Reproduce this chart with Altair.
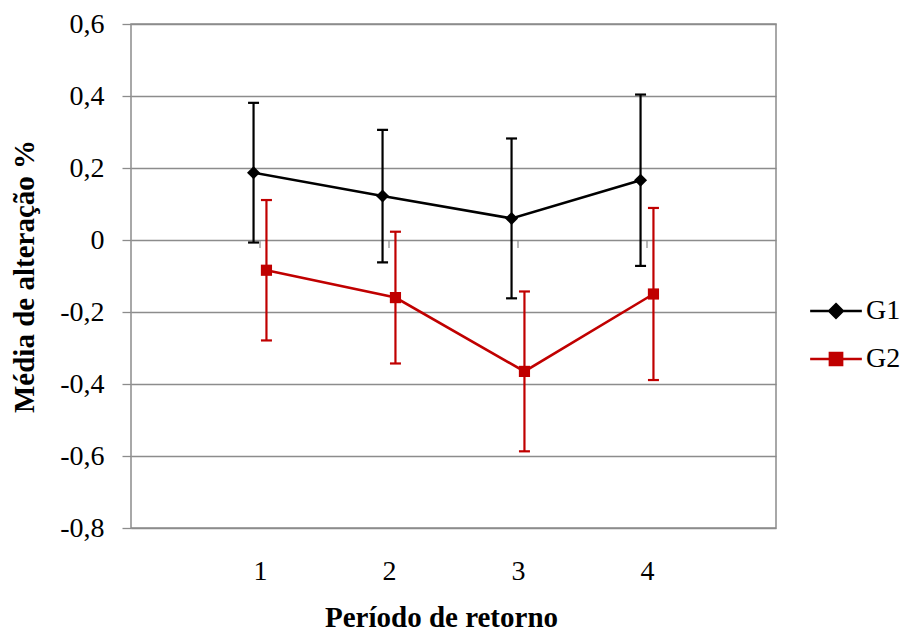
import altair as alt
import pandas as pd

# ---- data ----
periodos = [1, 2, 3, 4]
g1_media = [0.187, 0.122, 0.060, 0.166]
g1_erro = [0.194, 0.184, 0.222, 0.238]
g2_media = [-0.084, -0.160, -0.365, -0.150]
g2_erro = [0.195, 0.183, 0.222, 0.239]
grupos = ["G1", "G2"]
cores = ["#000000", "#C00000"]
formas = ["diamond", "square"]
y_ticks = [-0.8, -0.6, -0.4, -0.2, 0, 0.2, 0.4, 0.6]

rows = []
for g, med, err in [("G1", g1_media, g1_erro), ("G2", g2_media, g2_erro)]:
    for p, m, e in zip(periodos, med, err):
        rows.append({"grupo": g, "periodo": p, "media": m, "lo": m - e, "hi": m + e})
df = pd.DataFrame(rows)

FONT = "Liberation Serif"
GRID = "#8c8c8c"
YT = "Média de alteração %"

x_enc = alt.X(
    "xp:Q",
    scale=alt.Scale(domain=[0, 5], nice=False, zero=False),
    axis=alt.Axis(values=periodos, grid=False, ticks=False, domain=False,
                  labelPadding=29, labelFontSize=28, labelFont=FONT,
                  labelColor="black", titleFont=FONT, titleFontSize=29,
                  titleFontWeight="bold", titleColor="black", titlePadding=18,
                  titleX=310),
    title="Período de retorno",
)
y_scale = alt.Scale(domain=[-0.8, 0.6], nice=False, zero=False)
y_axis = alt.Axis(
    values=y_ticks,
    labelExpr="datum.value == 0 ? '0' : replace(replace(format(datum.value, '.1f'), '.', ','), '\u2212', '-')",
    grid=True, gridColor=GRID, gridWidth=1.3, domain=False,
    tickColor=GRID, tickSize=9, tickWidth=1.3, labelPadding=18,
    labelFontSize=28, labelFont=FONT, labelColor="black",
    titleFont=FONT, titleFontSize=29, titleFontWeight="bold",
    titleColor="black", titlePadding=20,
)

base = alt.Chart(df).transform_calculate(
    xp="datum.periodo + (datum.grupo == 'G1' ? -0.05 : 0.05)"
)

layers = []

# small ticks on the zero line
zt = alt.Chart(pd.DataFrame({"periodo": periodos})).transform_calculate(
    xp="datum.periodo"
).mark_rule(color=GRID, strokeWidth=1.2).encode(
    x=x_enc,
    y=alt.Y("z0:Q", scale=y_scale, axis=y_axis, title=YT),
    y2="z1:Q",
).transform_calculate(z0="0", z1="-0.022")
layers.append(zt)

for g, c, f in zip(grupos, cores, formas):
    b = base.transform_filter(alt.datum.grupo == g)
    line = b.mark_line(color=c, strokeWidth=2.6).encode(
        x=x_enc, y=alt.Y("media:Q", scale=y_scale, axis=y_axis, title=YT)
    )
    rule = b.mark_rule(color=c, strokeWidth=2.2).encode(
        x=x_enc, y=alt.Y("lo:Q", scale=y_scale, axis=y_axis, title=YT), y2="hi:Q"
    )
    caps = b.transform_fold(["lo", "hi"], as_=["k", "v"]).mark_tick(
        orient="horizontal", color=c, size=11, thickness=2.2, opacity=1
    ).encode(x=x_enc, y=alt.Y("v:Q", scale=y_scale, axis=y_axis, title=YT))
    pts = b.mark_point(shape=f, filled=True, color=c, opacity=1,
                       size=170 if f == "diamond" else 125).encode(
        x=x_enc, y=alt.Y("media:Q", scale=y_scale, axis=y_axis, title=YT)
    )
    layers += [line, rule, caps, pts]

# legend layer (no marks drawn, only legend)
paths = [
    "M-1.1,0H1.1M0,-0.29L0.29,0L0,0.29L-0.29,0Z",
    "M-1.1,0H1.1M-0.26,-0.26H0.26V0.26H-0.26Z",
]
leg = alt.Legend(
    title=None, orient="none", legendX=680, legendY=262,
    labelFont=FONT, labelFontSize=28, labelColor="black", labelOffset=5,
    symbolSize=2209, symbolStrokeWidth=2.5, rowPadding=9, padding=0,
)
legend_layer = base.transform_filter("false").mark_point(
    filled=True, opacity=1, strokeWidth=2.5
).encode(
    x=x_enc,
    y=alt.Y("media:Q", scale=y_scale, axis=y_axis, title=YT),
    fill=alt.Fill("grupo:N", scale=alt.Scale(domain=grupos, range=cores), legend=leg),
    stroke=alt.Stroke("grupo:N", scale=alt.Scale(domain=grupos, range=cores), legend=leg),
    shape=alt.Shape("grupo:N", scale=alt.Scale(domain=grupos, range=paths), legend=leg),
)
layers.append(legend_layer)

chart = alt.layer(*layers).properties(
    width=645, height=504,
    padding={"left": 123, "top": 16, "right": 124, "bottom": 107},
    autosize=alt.AutoSizeParams(type="none"),
    background="white",
).configure_view(
    stroke=GRID, strokeWidth=1.5
).configure_axis(
    labelFont=FONT, titleFont=FONT
).configure_legend(
    labelFont=FONT
)

chart.save("out.html", embed_options={"renderer": "svg", "actions": False})
